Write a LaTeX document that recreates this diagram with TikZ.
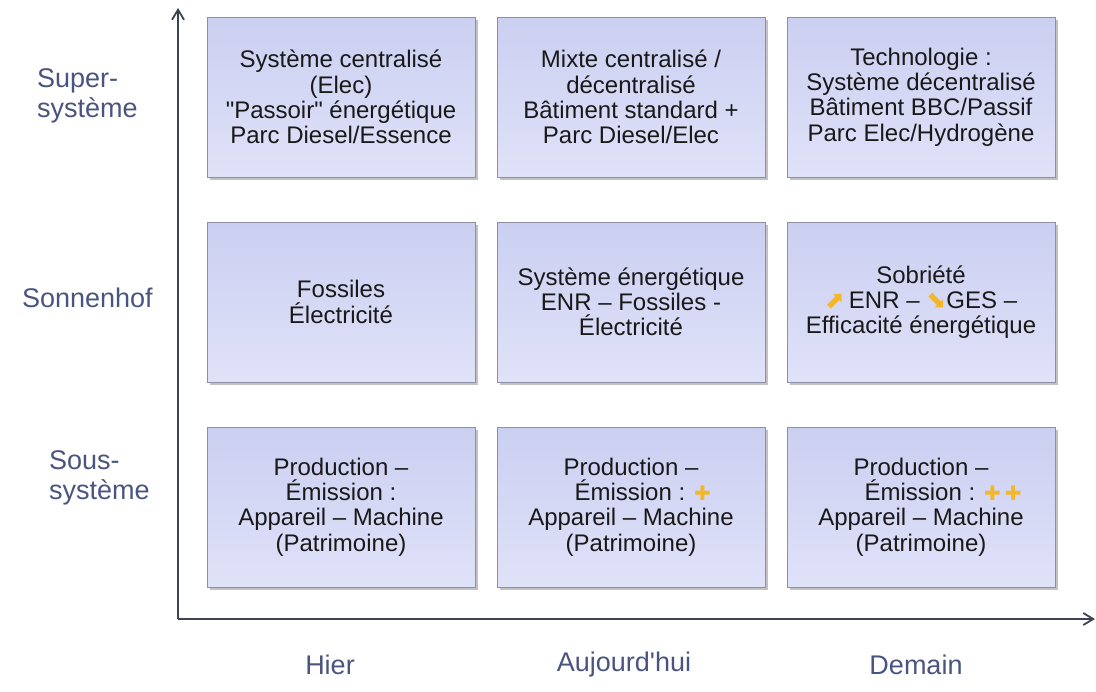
\documentclass[tikz,border=0pt]{standalone}
\usepackage{fontspec}
\setmainfont{Liberation Sans}[Ligatures=TeXOff]
\newfontfamily\symfont{DejaVu Sans}
\usepackage{tikz}
\usetikzlibrary{positioning,arrows.meta,shadows}
\usepackage{xcolor}
\definecolor{boxtop}{RGB}{203,207,241}
\definecolor{boxbot}{RGB}{224,226,248}
\definecolor{boxline}{RGB}{140,143,165}
\definecolor{axisgray}{RGB}{62,66,82}
\definecolor{labelblue}{RGB}{74,84,128}
\definecolor{gold}{RGB}{243,184,40}
\newcommand{\hausse}{{\color{gold}\symfont\char"2B08}}
\newcommand{\baisse}{{\color{gold}\symfont\char"2B0A}}
\newcommand{\plus}{{\color{gold}\symfont\fontsize{10}{10}\selectfont\char"271A}}

\begin{document}
\begin{tikzpicture}[x=0.5pt,y=-0.5pt,>={Straight Barb[length=5pt,width=6pt]},
  node distance=22pt and 10.5pt,
  cellbox/.style={draw=boxline,line width=0.5pt,top color=boxtop,bottom color=boxbot,
    minimum width=134pt,minimum height=80pt,align=center,inner sep=2pt,
    text=black!90,font=\fontsize{12}{12.6}\selectfont,
    drop shadow={shadow xshift=1.3pt,shadow yshift=-1.3pt,fill=gray!80,opacity=.6}},
  axislabel/.style={text=labelblue,font=\fontsize{13.5}{15}\selectfont},
  axis/.style={->,axisgray,line width=0.9pt}]
\useasboundingbox (0,0) rectangle (1096,691);
% axes
\coordinate (O) at (178,619);
\coordinate (ytop) at (178,8);
\coordinate (xend) at (1095,619);
\draw[axis] (O) -- (ytop);
\draw[axis] (O) -- (xend);
% first row
\node[cellbox] (b11) at (341,97) {Système centralisé\\(Elec)\\"Passoir" énergétique\\Parc Diesel/Essence};
\node[cellbox] (b12) [right=of b11] {Mixte centralisé /\\décentralisé\\Bâtiment standard +\\Parc Diesel/Elec};
\node[cellbox] (b13) [right=of b12] {Technologie :\\Système décentralisé\\Bâtiment BBC/Passif\\Parc Elec/Hydrogène};
% second row
\node[cellbox] (b21) [below=of b11] {Fossiles\\Électricité};
\node[cellbox] (b22) [below=of b12] {Système énergétique\\ENR – Fossiles -\\Électricité};
\node[cellbox] (b23) [below=of b13] {Sobriété\\\hausse\,ENR – \baisse GES –\\Efficacité énergétique};
% third row
\node[cellbox] (b31) [below=of b21] {Production –\\Émission :\\Appareil – Machine\\(Patrimoine)};
\node[cellbox] (b32) [below=of b22] {Production –\\\phantom{\plus\ }Émission : \plus\\Appareil – Machine\\(Patrimoine)};
\node[cellbox] (b33) [below=of b23] {Production –\\\phantom{\plus\,\plus\ }Émission : \plus\,\plus\\Appareil – Machine\\(Patrimoine)};
% levels
\node[axislabel,align=left,anchor=west] (super) at (30,96) {Super-\\système};
\node[axislabel,anchor=west] (sonnen) at (15,298) {Sonnenhof};
\node[axislabel,align=left,anchor=west] (sous) at (42,478) {Sous-\\système};
% time
\node[axislabel] (hier) at (330,665) {Hier};
\node[axislabel] (auj) at (624,665) {Aujourd'hui};
\node[axislabel] (demain) at (916,665) {Demain};
\end{tikzpicture}
\end{document}
